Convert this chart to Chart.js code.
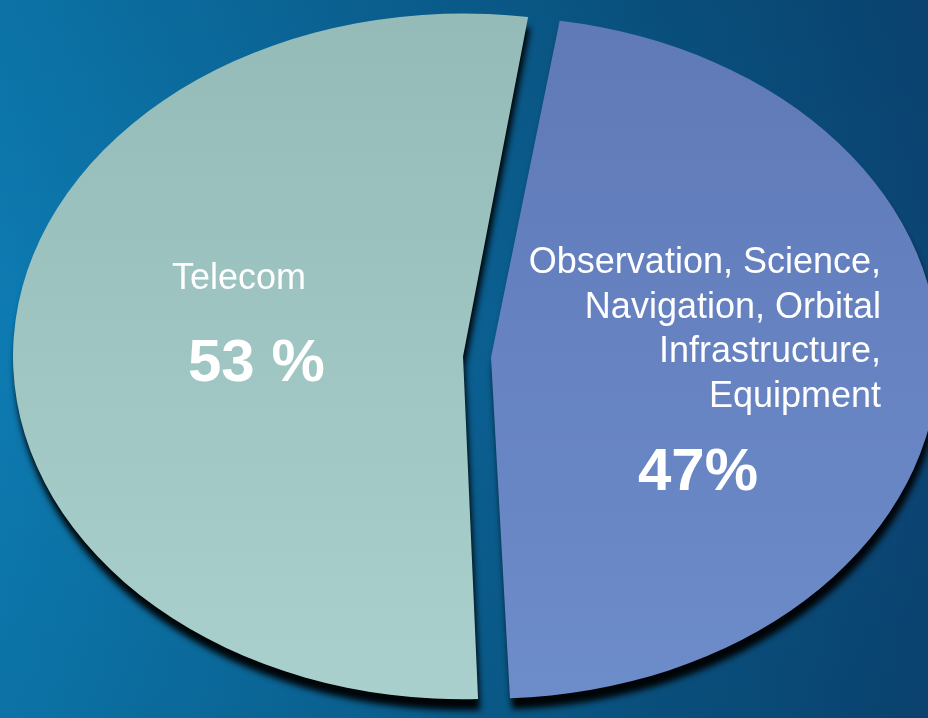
<!DOCTYPE html>
<html>
<head>
<meta charset="utf-8">
<script src="https://cdn.jsdelivr.net/npm/chart.js@4.4.1/dist/chart.umd.min.js"></script>
<style>
html, body { margin: 0; padding: 0; }
body {
	width: 928px; height: 718px; overflow: hidden;
	background:
		linear-gradient(to bottom, rgba(0,0,0,0.07) 0%, rgba(0,0,0,0) 45%, rgba(0,0,0,0.07) 100%),
		linear-gradient(to right, #0d7bb2 0%, #0b6699 40%, #0a5585 70%, #0b4676 100%);
}
#mycanvas { display: block; }
</style>
</head>
<body>
<canvas id="mycanvas" width="928" height="718"></canvas>
<script>
// data
var categories = ['Telecom', 'Observation, Science, Navigation, Orbital Infrastructure, Equipment'];
var shares = [53, 47];
var percentSuffix = [' %', '%'];
var labelLines = [
	['Telecom'],
	['Observation, Science,', 'Navigation, Orbital', 'Infrastructure,', 'Equipment']
];
var topColors = ['#95bbb9', '#6079b7'];
var bottomColors = ['#a9d0cc', '#6d8cca'];

var tilt = 0.762;   // squash the pie into an ellipse
var pieRadius = 436;

function sliceFill(context) {
	var chart = context.chart;
	var area = chart.chartArea;
	var i = context.dataIndex;
	if (!area) return topColors[i];
	var cy = (area.top + area.bottom) / 2;
	var g = chart.ctx.createLinearGradient(0, cy - 450, 0, cy + 450);
	g.addColorStop(0, topColors[i]);
	g.addColorStop(1, bottomColors[i]);
	return g;
}

var tiltPlugin = {
	id: 'tilt',
	beforeDatasetsDraw: function(chart) {
		var ctx = chart.ctx;
		var a = chart.chartArea;
		var cx = (a.left + a.right) / 2, cy = (a.top + a.bottom) / 2;
		ctx.save();
		ctx.translate(cx, cy);
		ctx.scale(1, tilt);
		ctx.translate(-cx, -cy);
		ctx.shadowColor = 'rgba(0, 0, 0, 0.95)';
		ctx.shadowOffsetX = 2;
		ctx.shadowOffsetY = 11;
		ctx.shadowBlur = 6;
	},
	afterDatasetsDraw: function(chart) {
		chart.ctx.restore();
	}
};

var labelPlugin = {
	id: 'sliceLabels',
	afterDraw: function(chart) {
		var ctx = chart.ctx;
		ctx.save();
		ctx.fillStyle = '#ffffff';
		ctx.textBaseline = 'alphabetic';

		// Telecom
		ctx.font = '36px "Liberation Sans", Arial, sans-serif';
		ctx.textAlign = 'left';
		ctx.fillText(labelLines[0][0], 172, 289);
		ctx.font = 'bold 60px "Liberation Sans", Arial, sans-serif';
		ctx.fillText(shares[0] + percentSuffix[0], 188, 381);

		// Observation ...
		ctx.font = '36px "Liberation Sans", Arial, sans-serif';
		ctx.textAlign = 'right';
		for (var i = 0; i < labelLines[1].length; i++) {
			ctx.fillText(labelLines[1][i], 881, 273 + i * 44.7);
		}
		ctx.textAlign = 'left';
		ctx.font = 'bold 60px "Liberation Sans", Arial, sans-serif';
		ctx.fillText(shares[1] + percentSuffix[1], 638, 490);
		ctx.restore();
	}
};

var chartdata = {
	labels: categories,
	datasets: [
		{
			data: shares,
			backgroundColor: sliceFill,
			borderWidth: 0,
			offset: 56
		}
	]
};

var ctx = document.getElementById('mycanvas');

var pieChart = new Chart(ctx, {
	type: 'pie',
	data: chartdata,
	options: {
		responsive: false,
		animation: false,
		rotation: 177.8,
		radius: pieRadius,
		layout: { padding: { left: 26, bottom: 4 } },
		plugins: {
			legend: { display: false },
			tooltip: { enabled: false }
		}
	},
	plugins: [tiltPlugin, labelPlugin]
});
</script>
</body>
</html>
